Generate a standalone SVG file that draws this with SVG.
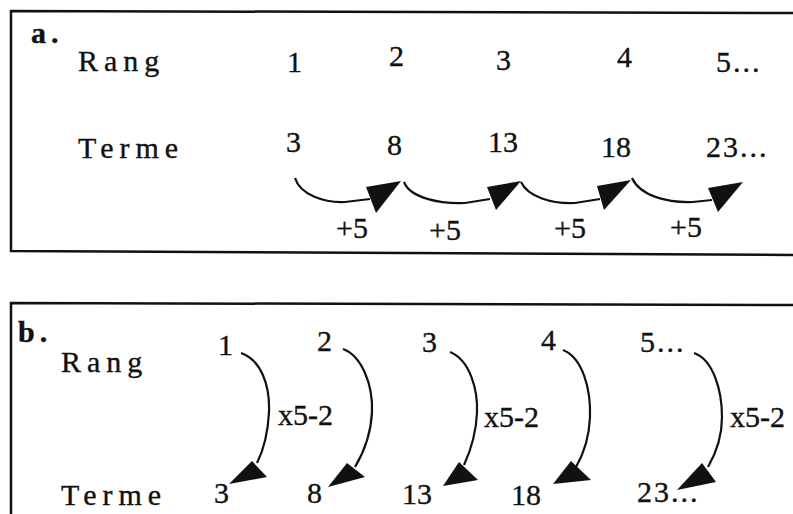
<svg xmlns="http://www.w3.org/2000/svg" width="793" height="514" viewBox="0 0 793 514">
<style>
text{font-family:"Liberation Serif","DejaVu Serif",serif;font-size:30px;fill:#111;stroke:#111;stroke-width:0.35}
.lbl{letter-spacing:6px}
.tag{font-weight:bold;letter-spacing:5px}
.dots{letter-spacing:2px}
.frame{fill:none;stroke:#111;stroke-width:2.5}
.arc{fill:none;stroke:#111;stroke-width:2.2}
.head{fill:#111}
</style>
<rect width="793" height="514" fill="#fff"/>
<g id="frames">
<path class="frame" d="M793,13 L11,11 L11,251 L793,255"/>
<path class="frame" d="M793,305 L11,303 L11,514"/>
</g>
<g id="panel-a">
<g id="a-tag"><text class="tag" x="31" y="43">a.</text></g>
<g id="a-rang"><text class="lbl" x="78" y="71">Rang</text></g>
<g id="a-terme"><text class="lbl" x="78" y="158">Terme</text></g>
<g id="a-r1"><text x="287" y="72">1</text></g>
<g id="a-r2"><text x="389" y="66">2</text></g>
<g id="a-r3"><text x="496" y="70">3</text></g>
<g id="a-r4"><text x="617" y="67">4</text></g>
<g id="a-r5"><text class="dots" x="716" y="72">5...</text></g>
<g id="a-t1"><text x="286" y="152">3</text></g>
<g id="a-t2"><text x="387" y="155">8</text></g>
<g id="a-t3"><text x="488" y="152">13</text></g>
<g id="a-t4"><text x="601" y="157">18</text></g>
<g id="a-t5"><text class="dots" x="706" y="157">23...</text></g>
</g>
<g id="panel-b">
<g id="b-tag"><text class="tag" x="18" y="342">b.</text></g>
<g id="b-rang"><text class="lbl" x="61" y="372">Rang</text></g>
<g id="b-terme"><text class="lbl" x="61" y="505">Terme</text></g>
<g id="b-r1"><text x="218" y="355">1</text></g>
<g id="b-r2"><text x="317" y="351">2</text></g>
<g id="b-r3"><text x="422" y="352">3</text></g>
<g id="b-r4"><text x="541" y="350">4</text></g>
<g id="b-r5"><text class="dots" x="640" y="352">5...</text></g>
<g id="b-t1"><text x="214" y="503">3</text></g>
<g id="b-t2"><text x="307" y="503">8</text></g>
<g id="b-t3"><text x="402" y="504">13</text></g>
<g id="b-t4"><text x="511" y="505">18</text></g>
<g id="b-t5"><text class="dots" x="637" y="502">23...</text></g>
</g>
<g id="connectors">
<path class="arc" d="M295,178 C300,195 325,203 345,202 L370,199"/>
<polygon class="head" points="366,187 401,181 376,213"/>
<text x="336" y="238">+5</text>
<path class="arc" d="M404,182 C410,198 440,204 465,203 L490,199"/>
<polygon class="head" points="487,187 521,181 496,210"/>
<text x="429" y="240">+5</text>
<path class="arc" d="M521,182 C528,197 552,204 575,203 L600,199"/>
<polygon class="head" points="597,186 631,180 604,210"/>
<text x="554" y="238">+5</text>
<path class="arc" d="M632,178 C640,196 668,203 693,202 L712,200"/>
<polygon class="head" points="708,188 743,182 718,212"/>
<text x="670" y="237">+5</text>
<path class="arc" d="M241,353 C261,360 270,385 269,412 C268,432 264,449 257,463"/>
<polygon class="head" points="252,461 267,477 229,484"/>
<text x="278" y="425">x5-2</text>
<path class="arc" d="M343,349 C362,356 373,385 372,412 C371,434 364,452 355,467"/>
<polygon class="head" points="347,463 365,477 328,487"/>
<path class="arc" d="M450,352 C470,360 478,390 477,413 C476,435 470,452 464,465"/>
<polygon class="head" points="459,462 478,480 443,486"/>
<text x="484" y="427">x5-2</text>
<path class="arc" d="M563,350 C583,358 591,390 590,417 C589,440 583,455 576,467"/>
<polygon class="head" points="571,461 591,480 553,484"/>
<path class="arc" d="M694,353 C714,360 722,392 722,417 C722,440 715,455 708,467"/>
<polygon class="head" points="702,463 716,482 677,490"/>
<text x="730" y="427">x5-2</text>
</g>
</svg>
